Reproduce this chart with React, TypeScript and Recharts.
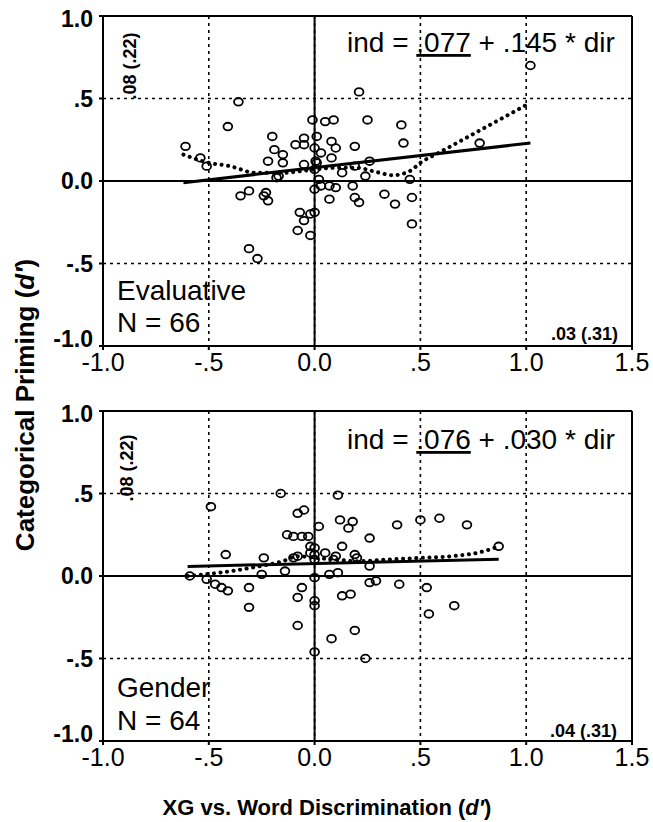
import React from 'react';
import { ScatterChart, Scatter, XAxis, YAxis, CartesianGrid, ReferenceLine } from 'recharts';

const xTicks = [-1, -0.5, 0, 0.5, 1, 1.5];
const xTickLabels = ['-1.0', '-.5', '0.0', '.5', '1.0', '1.5'];
const yTicks = [-1, -0.5, 0, 0.5, 1];
const yTickLabels = ['-1.0', '-.5', '0.0', '.5', '1.0'];

// Evaluative panel, N = 66 (dir = x, ind = y)
const evalDir = [
  -0.61, -0.54, -0.51, -0.36, -0.41, -0.35, -0.31, -0.31, -0.27, -0.24,
  -0.23, -0.22, -0.22, -0.2, -0.19, -0.15, -0.15, -0.18, -0.09, -0.05,
  -0.05, -0.05, -0.07, -0.05, -0.08, -0.02, -0.01, 0.01, 0.0, 0.03,
  0.01, 0.0, 0.02, 0.0, 0.03, 0.0, -0.02, 0.05, 0.09, 0.08,
  0.1, 0.08, 0.07, 0.1, 0.07, 0.13, 0.18, 0.19, 0.21, 0.19,
  0.21, 0.25, 0.24, 0.26, 0.33, 0.38, 0.41, 0.42, 0.45, 0.46,
  0.46, 0.78, 1.02, 0.19, 0.005, -0.17,
];
const evalInd = [
  0.21, 0.14, 0.09, 0.48, 0.33, -0.09, -0.06, -0.41, -0.47, -0.09,
  -0.07, -0.12, 0.12, 0.27, 0.19, 0.16, 0.11, 0.02, 0.22, 0.22,
  0.26, 0.1, -0.19, -0.24, -0.3, -0.33, 0.37, 0.27, 0.2, 0.17,
  0.11, 0.07, 0.01, -0.05, -0.03, -0.19, -0.2, 0.36, 0.37, 0.24,
  0.2, 0.14, -0.03, -0.04, -0.11, 0.05, -0.03, 0.21, 0.54, -0.1,
  -0.13, 0.37, 0.03, 0.12, -0.08, -0.14, 0.34, 0.23, 0.01, -0.1,
  -0.26, 0.23, 0.7, 0.09, 0.12, 0.03,
];
const evalFitDir = [-0.62, 1.02];
const evalFitInd = [-0.01, 0.23];
const evalSmoothDir = [-0.62, -0.5, -0.4, -0.28, -0.15, 0, 0.1, 0.2, 0.29, 0.37, 0.45, 0.5, 0.6, 0.7, 0.8, 0.9, 1.0];
const evalSmoothInd = [0.16, 0.11, 0.09, 0.05, 0.05, 0.07, 0.08, 0.08, 0.055, 0.035, 0.06, 0.11, 0.18, 0.25, 0.32, 0.39, 0.46];

// Gender panel, N = 64
const genderDir = [
  -0.59, -0.51, -0.49, -0.47, -0.44, -0.41, -0.42, -0.31, -0.31, -0.25,
  -0.24, -0.16, -0.14, -0.13, -0.1, -0.06, -0.03, -0.08, -0.05, -0.06,
  -0.08, -0.08, -0.08, -0.02, 0, 0, 0, 0, 0, 0,
  0, 0.02, 0.05, 0.07, 0.11, 0.1, 0.13, 0.11, 0.12, 0.16,
  0.18, 0.13, 0.17, 0.08, 0.19, 0.19, 0.2, 0.24, 0.26, 0.26,
  0.26, 0.29, 0.39, 0.4, 0.5, 0.53, 0.54, 0.59, 0.66, 0.72,
  0.87, 0.09, -0.1, -0.02,
];
const genderInd = [
  0.0, -0.02, 0.42, -0.05, -0.07, -0.09, 0.13, -0.07, -0.19, 0.01,
  0.11, 0.5, 0.03, 0.25, 0.24, 0.24, 0.24, 0.38, 0.4, -0.07,
  -0.13, -0.3, 0.12, 0.18, 0.17, 0.13, 0.1, -0.01, -0.15, -0.18,
  -0.46, 0.3, 0.14, 0.01, 0.02, 0.12, 0.18, 0.49, 0.34, 0.29,
  0.33, -0.12, -0.11, -0.38, -0.33, 0.13, 0.11, -0.5, 0.06, 0.23,
  -0.04, -0.03, 0.31, -0.05, 0.34, -0.07, -0.23, 0.35, -0.18, 0.31,
  0.18, 0.1, 0.11, 0.14,
];
const genderFitDir = [-0.6, 0.87];
const genderFitInd = [0.058, 0.102];
const genderSmoothDir = [-0.6, -0.45, -0.3, -0.15, -0.08, 0, 0.1, 0.2, 0.35, 0.5, 0.65, 0.8, 0.87];
const genderSmoothInd = [0.0, 0.02, 0.05, 0.09, 0.12, 0.11, 0.1, 0.09, 0.1, 0.11, 0.12, 0.15, 0.18];

const FONT = '"Liberation Sans", Arial, Helvetica, sans-serif';

const toPoints = (xs: number[], ys: number[]) => xs.map((x, i) => ({ x, y: ys[i] }));

const Ring = (props: any) => (
  <ellipse cx={props.cx} cy={props.cy} rx={4.4} ry={3.8} fill="none" stroke="#000" strokeWidth={1.8} />
);
const NoDot = () => <g />;

// y labels: the end labels sit slightly inside the frame, as in the print
const YTick = ({ x, y, payload }: any) => {
  const i = yTicks.indexOf(payload.value);
  const shift = payload.value === -1 ? -7 : payload.value === 1 ? 3 : 0;
  return (
    <text x={x} y={y + shift} dy="0.355em" textAnchor="end" fontSize={23} fontWeight="bold"
      fontFamily={FONT} fill="#000">
      {yTickLabels[i]}
    </text>
  );
};

function Panel({ dir, ind, fitDir, fitInd, smDir, smInd }: any) {
  return (
    <ScatterChart width={653} height={400} margin={{ top: 16, right: 21, bottom: 14, left: 0 }}>
      <CartesianGrid stroke="#000" strokeWidth={1.6} strokeDasharray="3 4" />
      <XAxis
        type="number"
        dataKey="x"
        domain={[-1, 1.5]}
        ticks={xTicks}
        allowDataOverflow
        height={40}
        tickFormatter={(v: number) => xTickLabels[xTicks.indexOf(v)]}
        tick={{ fontSize: 25, fill: '#000', fontFamily: FONT }}
        tickLine={{ stroke: '#000', strokeWidth: 2 }}
        tickSize={4}
        tickMargin={3}
        axisLine={{ stroke: '#000', strokeWidth: 2 }}
      />
      <YAxis
        type="number"
        dataKey="y"
        domain={[-1, 1]}
        ticks={yTicks}
        allowDataOverflow
        width={103}
        tick={YTick}
        tickLine={{ stroke: '#000', strokeWidth: 2 }}
        tickSize={4}
        tickMargin={6}
        axisLine={{ stroke: '#000', strokeWidth: 2 }}
      />
      <ReferenceLine y={1} stroke="#000" strokeWidth={2} />
      <ReferenceLine x={1.5} stroke="#000" strokeWidth={2} />
      <ReferenceLine y={0} stroke="#000" strokeWidth={2} />
      <ReferenceLine x={0} stroke="#000" strokeWidth={2} />
      <Scatter data={toPoints(dir, ind)} shape={Ring} isAnimationActive={false} />
      <Scatter
        data={toPoints(fitDir, fitInd)}
        shape={NoDot}
        line={{ stroke: '#000', strokeWidth: 3 }}
        isAnimationActive={false}
      />
      <Scatter
        data={toPoints(smDir, smInd)}
        shape={NoDot}
        line={{ stroke: '#000', strokeWidth: 4, strokeDasharray: '0.1 6.5', strokeLinecap: 'round' }}
        lineJointType="monotoneX"
        isAnimationActive={false}
      />
    </ScatterChart>
  );
}

export default function App() {
  const txt = { fontFamily: FONT, fill: '#000' };
  return (
    <div style={{ position: 'absolute', left: 0, top: 0, width: 653, height: 822, background: '#fff' }}>
      <div style={{ position: 'absolute', left: 0, top: 0 }}>
        <Panel dir={evalDir} ind={evalInd} fitDir={evalFitDir} fitInd={evalFitInd} smDir={evalSmoothDir} smInd={evalSmoothInd} />
      </div>
      <div style={{ position: 'absolute', left: 0, top: 395 }}>
        <Panel dir={genderDir} ind={genderInd} fitDir={genderFitDir} fitInd={genderFitInd} smDir={genderSmoothDir} smInd={genderSmoothInd} />
      </div>
      <svg width={653} height={822} style={{ position: 'absolute', left: 0, top: 0, pointerEvents: 'none' }}>
        {/* top panel notes */}
        <text x={347} y={52} fontSize={28} {...txt}>
          ind = <tspan style={{ textDecoration: 'underline' }}>.077</tspan> + .145 * dir
        </text>
        <text x={117} y={300} fontSize={28} {...txt}>Evaluative</text>
        <text x={117} y={332} fontSize={28} {...txt}>N = 66</text>
        <text x={130} y={66} fontSize={18} fontWeight="bold" textAnchor="middle" dominantBaseline="central"
          transform="rotate(-90 130 66)" {...txt}>.08 (.22)</text>
        <text x={618} y={340} fontSize={18} fontWeight="bold" textAnchor="end" {...txt}>.03 (.31)</text>

        {/* bottom panel notes */}
        <text x={347} y={449} fontSize={28} {...txt}>
          ind = <tspan style={{ textDecoration: 'underline' }}>.076</tspan> + .030 * dir
        </text>
        <text x={117} y={697} fontSize={28} {...txt}>Gender</text>
        <text x={117} y={730} fontSize={28} {...txt}>N = 64</text>
        <text x={127} y={468} fontSize={18} fontWeight="bold" textAnchor="middle" dominantBaseline="central"
          transform="rotate(-90 127 468)" {...txt}>.08 (.22)</text>
        <text x={617} y={737} fontSize={18} fontWeight="bold" textAnchor="end" {...txt}>.04 (.31)</text>

        {/* axis titles */}
        <text x={327} y={815} fontSize={22} fontWeight="bold" textAnchor="middle" {...txt}>
          XG vs. Word Discrimination (<tspan fontStyle="italic">d′</tspan>)
        </text>
        <text x={25} y={405} fontSize={26} fontWeight="bold" textAnchor="middle" dominantBaseline="central"
          transform="rotate(-90 25 405)" {...txt}>
          Categorical Priming (<tspan fontStyle="italic">d′</tspan>)
        </text>
      </svg>
    </div>
  );
}
